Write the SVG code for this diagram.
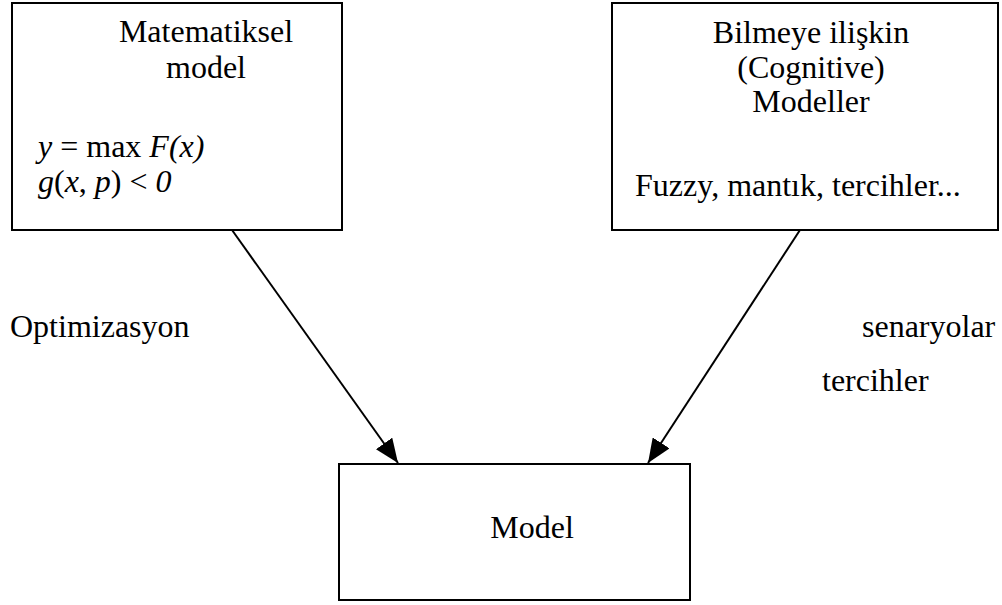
<svg xmlns="http://www.w3.org/2000/svg" width="1002" height="605" viewBox="0 0 1002 605">
  <defs>
    <marker id="arrow" viewBox="0 0 10 10" refX="10" refY="5" markerWidth="24" markerHeight="20" markerUnits="userSpaceOnUse" orient="auto" preserveAspectRatio="none">
      <path d="M0,0 L10,5 L0,10 z" fill="#000"/>
    </marker>
    <style>
      .box { fill: #fff; stroke: #000; stroke-width: 2; }
      .t { font-family: "Liberation Serif", "Times New Roman", serif; font-size: 32px; fill: #000; }
      .c { text-anchor: middle; }
      .i { font-style: italic; }
      .edge { stroke: #000; stroke-width: 2; fill: none; }
    </style>
  </defs>
  <rect width="1002" height="605" fill="#fff"/>

  <g id="connectors">
    <line class="edge" x1="232" y1="230" x2="398" y2="463" marker-end="url(#arrow)"/>
    <line class="edge" x1="800" y1="230" x2="648" y2="463" marker-end="url(#arrow)"/>
  </g>

  <g id="math-model">
    <rect class="box" x="12" y="3" width="330" height="227"/>
    <text class="t c" x="206" y="42">Matematiksel</text>
    <text class="t c" x="206" y="78">model</text>
    <text class="t" x="38" y="157"><tspan class="i">y</tspan> = max <tspan class="i">F(x)</tspan></text>
    <text class="t" x="38" y="192"><tspan class="i">g</tspan>(<tspan class="i">x</tspan>, <tspan class="i">p</tspan>) &lt; <tspan class="i">0</tspan></text>
  </g>

  <g id="cognitive-model">
    <rect class="box" x="612" y="3" width="386" height="227"/>
    <text class="t c" x="811" y="43">Bilmeye ilişkin</text>
    <text class="t c" x="811" y="78">(Cognitive)</text>
    <text class="t c" x="811" y="112">Modeller</text>
    <text class="t" x="635" y="196">Fuzzy, mantık, tercihler...</text>
  </g>

  <g id="model">
    <rect class="box" x="339" y="464" width="351" height="136"/>
    <text class="t c" x="532" y="538">Model</text>
  </g>

  <g id="edge-labels">
    <text class="t" x="10" y="337">Optimizasyon</text>
    <text class="t" x="862" y="337">senaryolar</text>
    <text class="t" x="822" y="391">tercihler</text>
  </g>
</svg>
